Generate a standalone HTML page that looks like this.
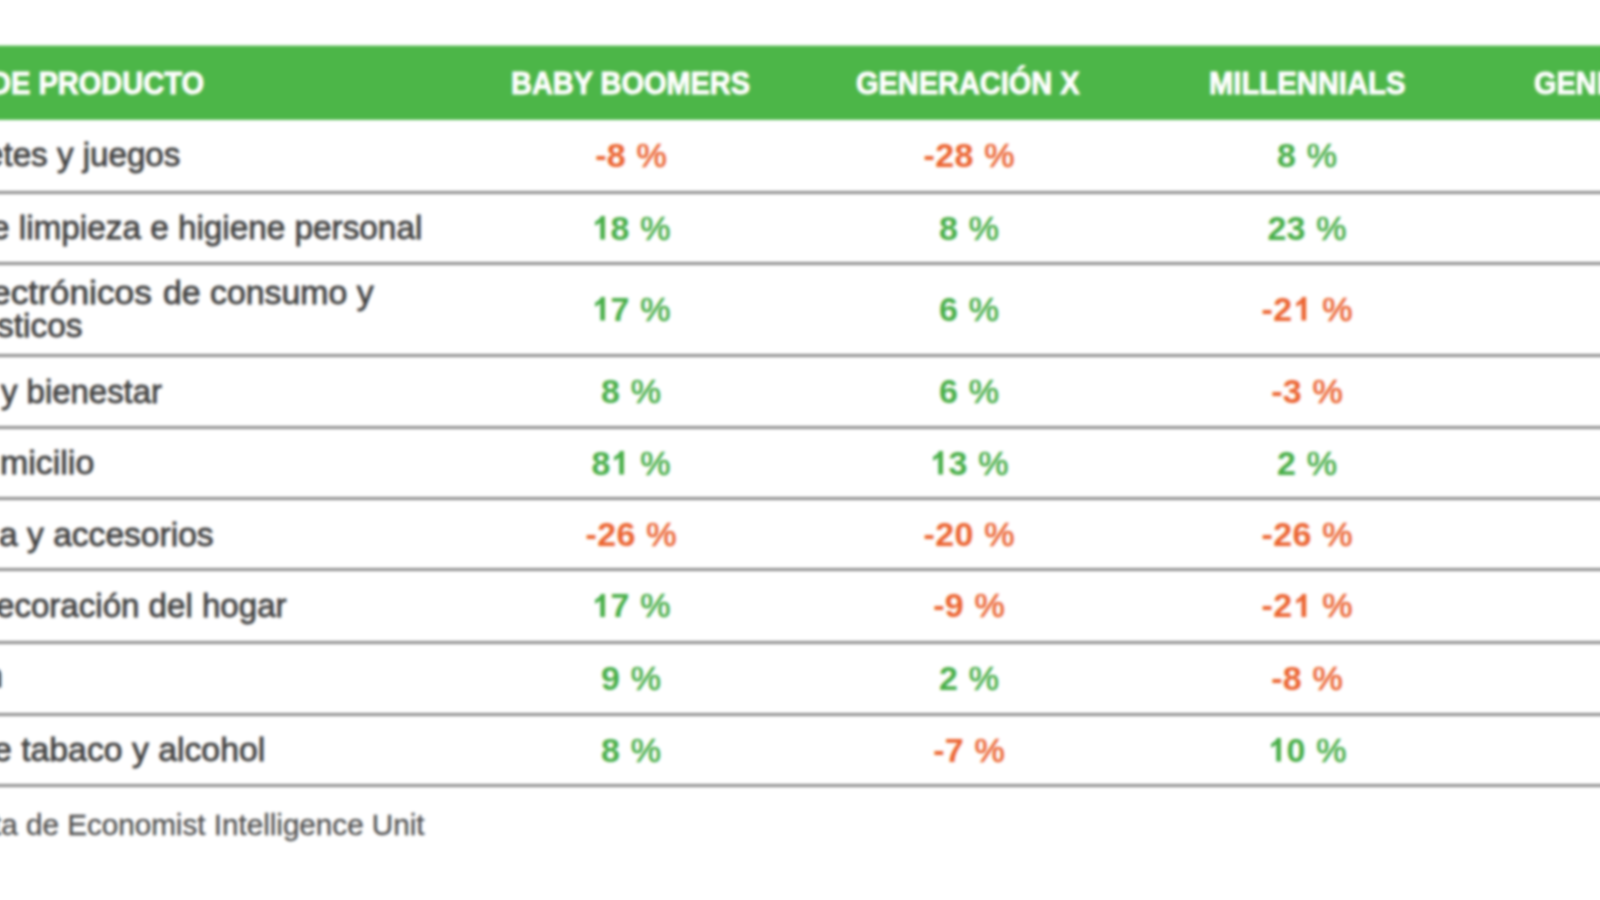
<!DOCTYPE html>
<html><head><meta charset="utf-8"><title>Variacion por generacion</title>
<style>
html,body{margin:0;padding:0;background:#fff;}
body{width:1600px;height:900px;overflow:hidden;position:relative;font-family:"Liberation Sans",sans-serif;}
#w{position:absolute;left:-30px;top:-30px;width:1660px;height:960px;filter:blur(1.4px);background:#fff;}
#i{position:absolute;left:30px;top:30px;width:1600px;height:900px;}
.g{position:absolute;left:-30px;top:0;width:1660px;height:100px;background:#4cb648;transform-origin:0 0;transform:translateY(45.6px) scaleY(0.7430000000000001);}
.ln{position:absolute;left:-30px;width:1660px;height:3px;background:#8e8e8e;}
.t{position:absolute;white-space:nowrap;transform-origin:0 0;}
.lb{font-size:33.5px;line-height:33.5px;color:#444444;-webkit-text-stroke:0.8px #444444;}
.h{font-size:31px;line-height:31px;color:#fff;font-weight:bold;-webkit-text-stroke:1.0px #fff;}
.pc{font-weight:normal;-webkit-text-stroke:0.7px;}
.one{display:inline-block;width:0.556em;height:0.688em;margin-right:0.3px;vertical-align:baseline;}
.n{font-size:34px;line-height:34px;letter-spacing:0.3px;word-spacing:0.8px;font-weight:bold;}
.r{color:#eb6431}.p{color:#48ae48}
.f{font-size:29.5px;line-height:29.5px;color:#505050;-webkit-text-stroke:0.3px #505050;}
</style></head><body>
<div id="w"><div id="i">
<div class="g"></div>
<div class="ln" style="top:191px"></div>
<div class="ln" style="top:262px"></div>
<div class="ln" style="top:354px"></div>
<div class="ln" style="top:426px"></div>
<div class="ln" style="top:497px"></div>
<div class="ln" style="top:568px"></div>
<div class="ln" style="top:641px"></div>
<div class="ln" style="top:713px"></div>
<div class="ln" style="top:784px"></div>
<div class="t lb" style="left:-15.24px;top:138.04px;transform:scaleX(0.9898)">etes y juegos</div>
<div class="t lb" style="left:-8.56px;top:211.24px;transform:scaleX(0.9940)">e limpieza e higiene personal</div>
<div class="t lb" style="left:-9.28px;top:275.84px;transform:scaleX(1.0537)">ectrónicos</div>
<div class="t lb" style="left:162.69px;top:275.84px;transform:scaleX(1.0101)">de consumo y</div>
<div class="t lb" style="left:-3.04px;top:308.74px;transform:scaleX(0.9995)">sticos</div>
<div class="t lb" style="left:0.93px;top:375.04px;transform:scaleX(0.9826)">y bienestar</div>
<div class="t lb" style="left:0.47px;top:446.04px;transform:scaleX(1.0130)">micilio</div>
<div class="t lb" style="left:-0.91px;top:518.04px;transform:scaleX(1.0025)">a y accesorios</div>
<div class="t lb" style="left:-4.18px;top:588.74px;transform:scaleX(0.9874)">ecoración del hogar</div>
<div class="t lb" style="left:-6.96px;top:732.74px;transform:scaleX(1.0080)">e tabaco y alcohol</div>
<div class="t h" style="left:-9.54px;top:67.65px;transform:scaleX(0.9364)">DE PRODUCTO</div>
<div class="t h" style="left:510.83px;top:67.65px;transform:scaleX(0.9333)">BABY BOOMERS</div>
<div class="t h" style="left:856.37px;top:67.65px;transform:scaleX(0.9336)">GENERACIÓN X</div>
<div class="t h" style="left:1208.91px;top:67.65px;transform:scaleX(0.9427)">MILLENNIALS</div>
<div class="t f" style="left:-7.15px;top:810.02px;transform:scaleX(1.0045)">ta de Economist Intelligence Unit</div>
<div class="t lb" style="left:-15.80px;top:659.14px">n</div>
<div class="t h" style="left:1533.87px;top:67.65px;transform:scaleX(0.9336)">GENERACIÓN Z</div>
<div class="t n r" style="left:631.15px;top:137.71px;transform:translateX(-50%)">-8&nbsp;<span class="pc">%</span></div>
<div class="t n r" style="left:969.15px;top:137.71px;transform:translateX(-50%)">-28&nbsp;<span class="pc">%</span></div>
<div class="t n p" style="left:1307.15px;top:137.71px;transform:translateX(-50%)">8&nbsp;<span class="pc">%</span></div>
<div class="t n p" style="left:631.15px;top:210.71px;transform:translateX(-50%)"><svg class="one" viewBox="0 0 1139 1409" preserveAspectRatio="none"><path fill="currentColor" d="M826 1409L545 1409L545 391Q420 500 230 580L230 340Q330 300 430 215Q540 120 590 0L826 0Z"/></svg>8&nbsp;<span class="pc">%</span></div>
<div class="t n p" style="left:969.15px;top:210.71px;transform:translateX(-50%)">8&nbsp;<span class="pc">%</span></div>
<div class="t n p" style="left:1307.15px;top:210.71px;transform:translateX(-50%)">23&nbsp;<span class="pc">%</span></div>
<div class="t n p" style="left:631.15px;top:291.71px;transform:translateX(-50%)"><svg class="one" viewBox="0 0 1139 1409" preserveAspectRatio="none"><path fill="currentColor" d="M826 1409L545 1409L545 391Q420 500 230 580L230 340Q330 300 430 215Q540 120 590 0L826 0Z"/></svg>7&nbsp;<span class="pc">%</span></div>
<div class="t n p" style="left:969.15px;top:291.71px;transform:translateX(-50%)">6&nbsp;<span class="pc">%</span></div>
<div class="t n r" style="left:1307.15px;top:291.71px;transform:translateX(-50%)">-2<svg class="one" viewBox="0 0 1139 1409" preserveAspectRatio="none"><path fill="currentColor" d="M826 1409L545 1409L545 391Q420 500 230 580L230 340Q330 300 430 215Q540 120 590 0L826 0Z"/></svg>&nbsp;<span class="pc">%</span></div>
<div class="t n r" style="left:1648.15px;top:291.71px;transform:translateX(-50%)">-<svg class="one" viewBox="0 0 1139 1409" preserveAspectRatio="none"><path fill="currentColor" d="M826 1409L545 1409L545 391Q420 500 230 580L230 340Q330 300 430 215Q540 120 590 0L826 0Z"/></svg>2&nbsp;<span class="pc">%</span></div>
<div class="t n p" style="left:631.15px;top:373.71px;transform:translateX(-50%)">8&nbsp;<span class="pc">%</span></div>
<div class="t n p" style="left:969.15px;top:373.71px;transform:translateX(-50%)">6&nbsp;<span class="pc">%</span></div>
<div class="t n r" style="left:1307.15px;top:373.71px;transform:translateX(-50%)">-3&nbsp;<span class="pc">%</span></div>
<div class="t n p" style="left:631.15px;top:445.51px;transform:translateX(-50%)">8<svg class="one" viewBox="0 0 1139 1409" preserveAspectRatio="none"><path fill="currentColor" d="M826 1409L545 1409L545 391Q420 500 230 580L230 340Q330 300 430 215Q540 120 590 0L826 0Z"/></svg>&nbsp;<span class="pc">%</span></div>
<div class="t n p" style="left:969.15px;top:445.51px;transform:translateX(-50%)"><svg class="one" viewBox="0 0 1139 1409" preserveAspectRatio="none"><path fill="currentColor" d="M826 1409L545 1409L545 391Q420 500 230 580L230 340Q330 300 430 215Q540 120 590 0L826 0Z"/></svg>3&nbsp;<span class="pc">%</span></div>
<div class="t n p" style="left:1307.15px;top:445.51px;transform:translateX(-50%)">2&nbsp;<span class="pc">%</span></div>
<div class="t n r" style="left:631.15px;top:516.71px;transform:translateX(-50%)">-26&nbsp;<span class="pc">%</span></div>
<div class="t n r" style="left:969.15px;top:516.71px;transform:translateX(-50%)">-20&nbsp;<span class="pc">%</span></div>
<div class="t n r" style="left:1307.15px;top:516.71px;transform:translateX(-50%)">-26&nbsp;<span class="pc">%</span></div>
<div class="t n r" style="left:1648.15px;top:516.71px;transform:translateX(-50%)">-<svg class="one" viewBox="0 0 1139 1409" preserveAspectRatio="none"><path fill="currentColor" d="M826 1409L545 1409L545 391Q420 500 230 580L230 340Q330 300 430 215Q540 120 590 0L826 0Z"/></svg>2&nbsp;<span class="pc">%</span></div>
<div class="t n p" style="left:631.15px;top:588.21px;transform:translateX(-50%)"><svg class="one" viewBox="0 0 1139 1409" preserveAspectRatio="none"><path fill="currentColor" d="M826 1409L545 1409L545 391Q420 500 230 580L230 340Q330 300 430 215Q540 120 590 0L826 0Z"/></svg>7&nbsp;<span class="pc">%</span></div>
<div class="t n r" style="left:969.15px;top:588.21px;transform:translateX(-50%)">-9&nbsp;<span class="pc">%</span></div>
<div class="t n r" style="left:1307.15px;top:588.21px;transform:translateX(-50%)">-2<svg class="one" viewBox="0 0 1139 1409" preserveAspectRatio="none"><path fill="currentColor" d="M826 1409L545 1409L545 391Q420 500 230 580L230 340Q330 300 430 215Q540 120 590 0L826 0Z"/></svg>&nbsp;<span class="pc">%</span></div>
<div class="t n p" style="left:631.15px;top:661.21px;transform:translateX(-50%)">9&nbsp;<span class="pc">%</span></div>
<div class="t n p" style="left:969.15px;top:661.21px;transform:translateX(-50%)">2&nbsp;<span class="pc">%</span></div>
<div class="t n r" style="left:1307.15px;top:661.21px;transform:translateX(-50%)">-8&nbsp;<span class="pc">%</span></div>
<div class="t n p" style="left:631.15px;top:732.71px;transform:translateX(-50%)">8&nbsp;<span class="pc">%</span></div>
<div class="t n r" style="left:969.15px;top:732.71px;transform:translateX(-50%)">-7&nbsp;<span class="pc">%</span></div>
<div class="t n p" style="left:1307.15px;top:732.71px;transform:translateX(-50%)"><svg class="one" viewBox="0 0 1139 1409" preserveAspectRatio="none"><path fill="currentColor" d="M826 1409L545 1409L545 391Q420 500 230 580L230 340Q330 300 430 215Q540 120 590 0L826 0Z"/></svg>0&nbsp;<span class="pc">%</span></div>
<div class="t n r" style="left:1648.15px;top:732.71px;transform:translateX(-50%)">-<svg class="one" viewBox="0 0 1139 1409" preserveAspectRatio="none"><path fill="currentColor" d="M826 1409L545 1409L545 391Q420 500 230 580L230 340Q330 300 430 215Q540 120 590 0L826 0Z"/></svg>2&nbsp;<span class="pc">%</span></div>
</div></div>
</body></html>
